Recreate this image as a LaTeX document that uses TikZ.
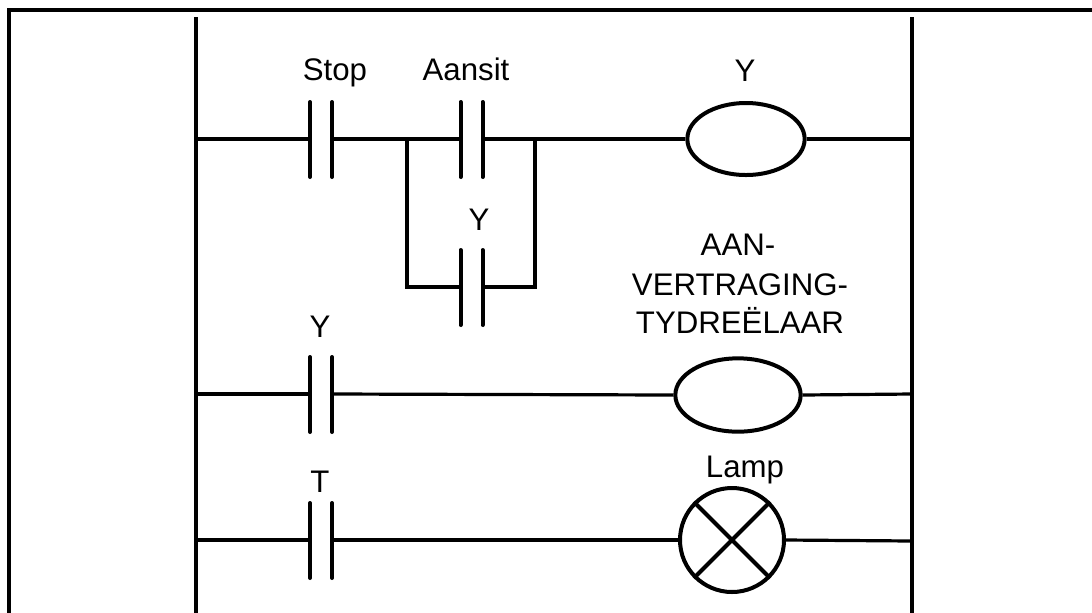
\documentclass[tikz,border=0pt]{standalone}
\usepackage{fontspec}
\setmainfont{Liberation Sans}
\usetikzlibrary{shapes.geometric}
\newcommand\ladderContact[3]{% name, centre x, y
  \coordinate (#1L) at (#2-11,#3);
  \coordinate (#1R) at (#2+11,#3);
  \draw[plate] (#1L) ++(0,-37) -- ++(0,75);
  \draw[plate] (#1R) ++(0,-37) -- ++(0,75);
}
\begin{document}
\begin{tikzpicture}[x=0.75pt,y=-0.75pt,
  wire/.style={line width=2.4pt},
  rail/.style={line width=3pt},
  plate/.style={line width=3pt,line cap=round},
  lbl/.style={font=\fontsize{23.4}{30}\selectfont,inner sep=0pt,anchor=base},
  coil/.style={draw,ellipse,line width=3pt,inner sep=0pt},
  lampstyle/.style={draw,circle,line width=3pt,inner sep=0pt,minimum size=78pt},
]
\useasboundingbox (0,0) rectangle (1092,612);
\clip (0,0) rectangle (1092,612);
% frame (top and left edges visible)
\coordinate (FTR) at (1100,10);
\coordinate (FTL) at (9,10);
\coordinate (FBL) at (9,620);
\draw[line width=3.4pt] (FTR) -- (FTL) -- (FBL);
% power rails
\coordinate (LT) at (196,17);
\coordinate (LB) at (196,620);
\coordinate (RT) at (912,17);
\coordinate (RB) at (912,620);
\draw[rail] (LT) -- (LB);
\draw[rail] (RT) -- (RB);
% rung 1
\ladderContact{stop}{321}{139}
\ladderContact{aan}{471.5}{139}
\ladderContact{hold}{471.5}{287}
\node[coil,minimum width=88pt,minimum height=54pt] (coilY) at (746,139) {};
\coordinate (r1L) at (196,139);
\coordinate (r1R) at (912,139);
\coordinate (j1) at (407,139);
\coordinate (j2) at (535,139);
\draw[wire] (r1L) -- (stopL);
\draw[wire] (stopR) -- (aanL);
\draw[wire] (aanR) -- (coilY.west);
\draw[wire] (coilY.east) -- (r1R);
\draw[wire] (j1) |- (holdL);
\draw[wire] (holdR) -| (j2);
\node[lbl] (lstop) at (335,80) {Stop};
\node[lbl] (laan) at (466,80) {Aansit};
\node[lbl] (lY1) at (745,81) {Y};
\node[lbl] (lY2) at (479,230) {Y};
% rung 2
\ladderContact{yc}{321}{394}
\node[coil,minimum width=94pt,minimum height=55pt] (coilT) at (738,395) {};
\coordinate (r2L) at (196,394);
\coordinate (r2R) at (912,394);
\draw[wire] (r2L) -- (ycL);
\draw[wire] (ycR) -- (coilT.west);
\draw[wire] (coilT.east) -- (r2R);
\node[lbl] (lY3) at (320,337) {Y};
\node[lbl] (t1) at (738,255) {AAN-};
\node[lbl] (t2) at (740,295) {VERTRAGING-};
\node[lbl] (t3) at (740,333) {TYDREËLAAR};
% rung 3
\ladderContact{tc}{321}{540}
\node[lampstyle] (lamp) at (732,540) {};
\coordinate (r3L) at (196,540);
\coordinate (r3R) at (912,541);
\draw[wire] (r3L) -- (tcL);
\draw[wire] (tcR) -- (lamp.west);
\draw[wire] (lamp.east) -- (r3R);
\draw[line width=3pt] (lamp.north west) -- (lamp.south east);
\draw[line width=3pt] (lamp.north east) -- (lamp.south west);
\node[lbl] (lT) at (320,492) {T};
\node[lbl] (llamp) at (745,477) {Lamp};
\end{tikzpicture}
\end{document}
